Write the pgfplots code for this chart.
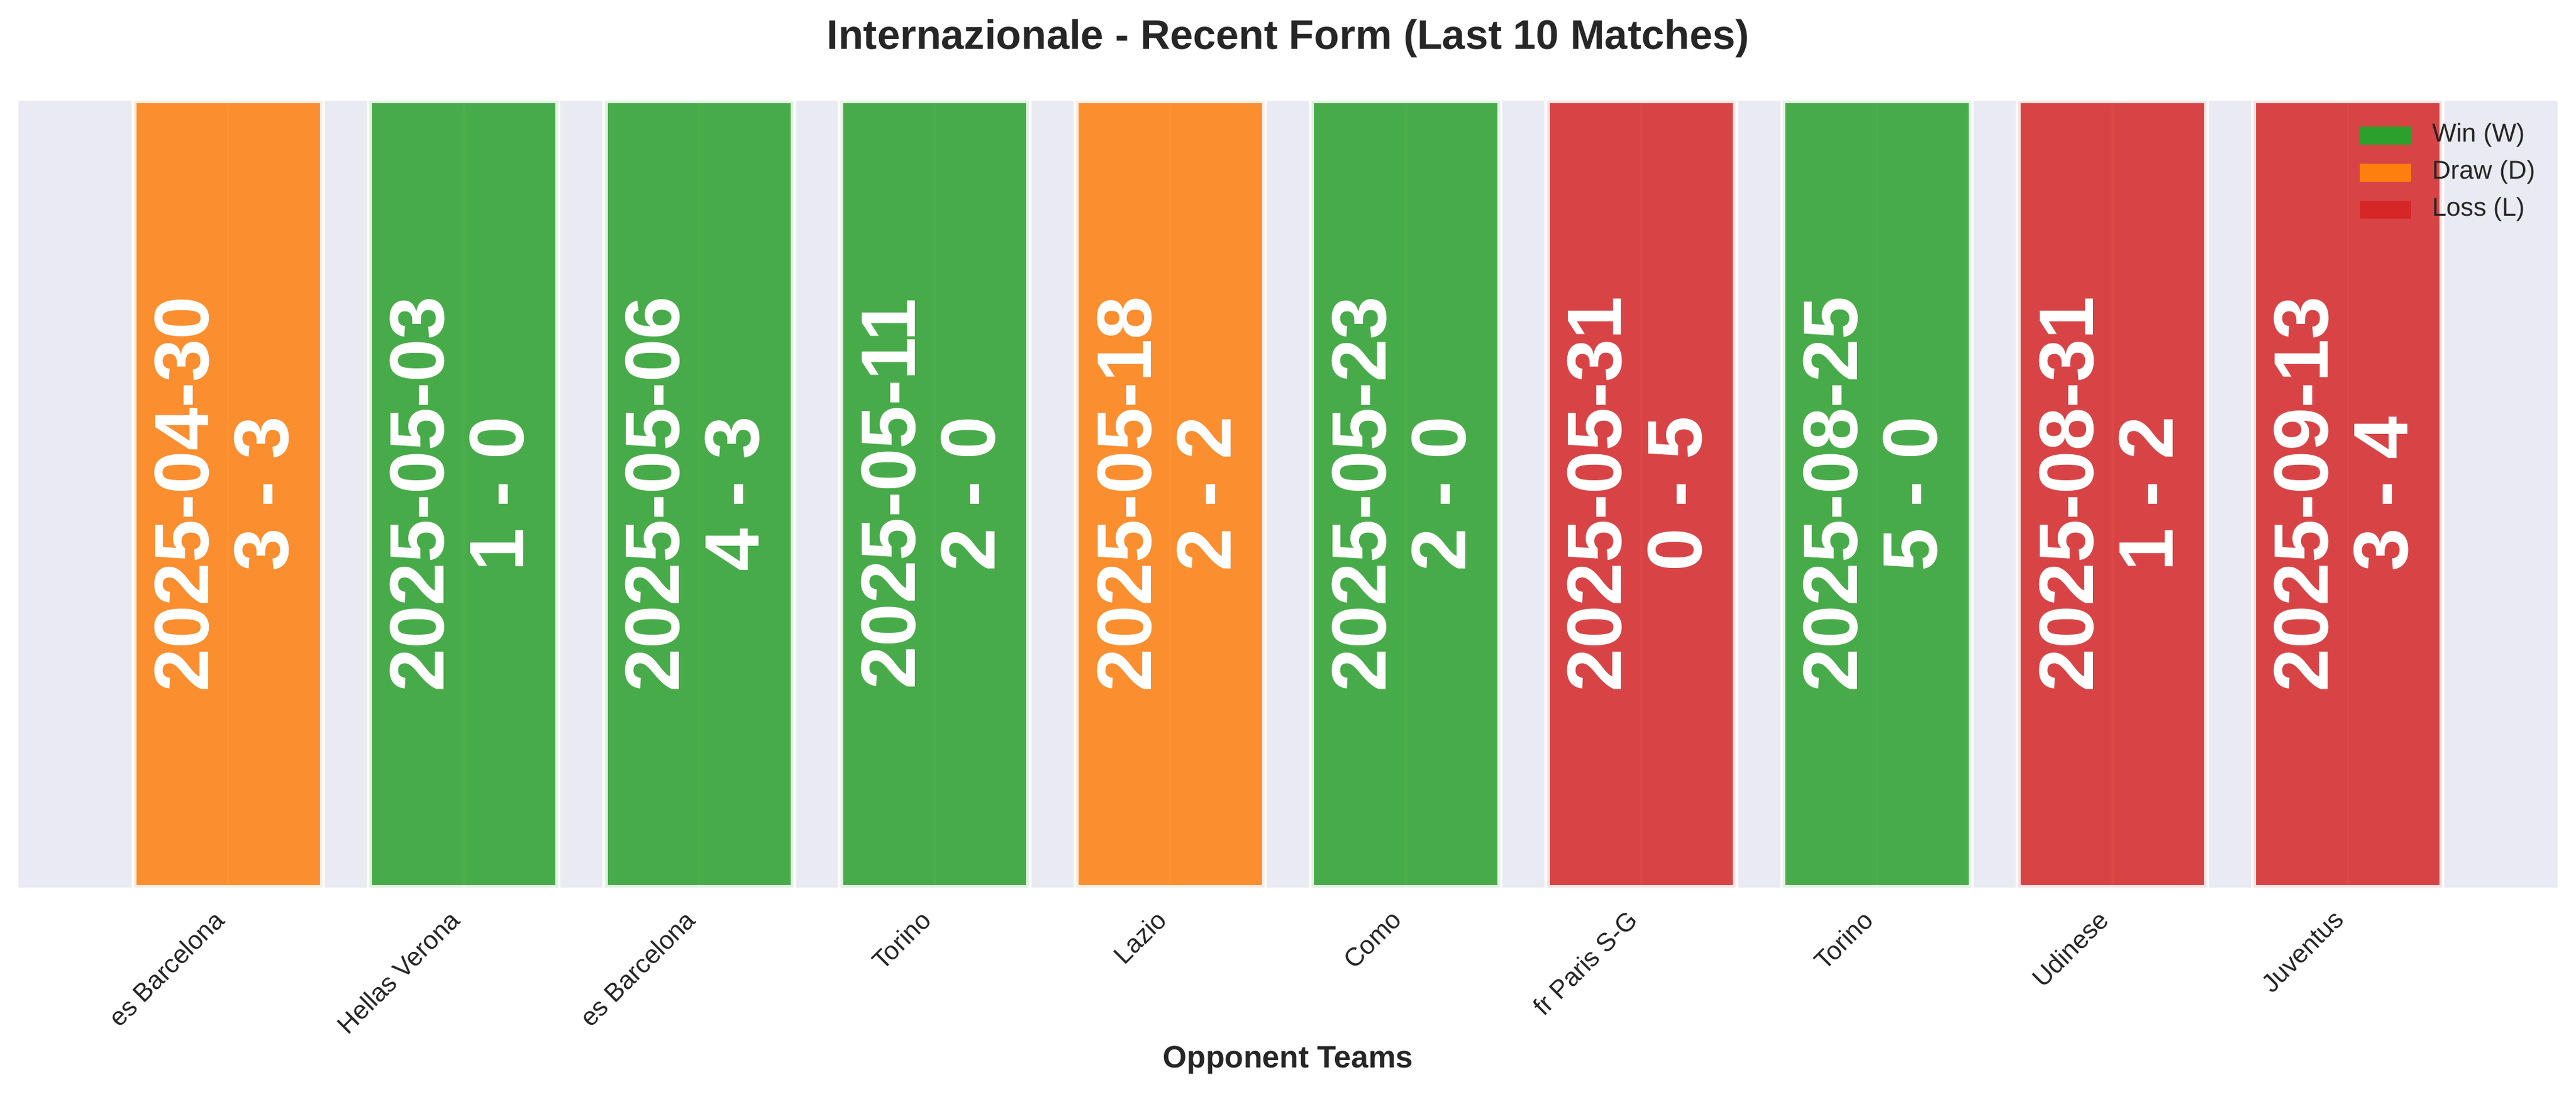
\documentclass[border=0pt]{standalone}
\usepackage{fontspec}
\setmainfont{Liberation Sans}
\usepackage{pgfplots}
\pgfplotsset{compat=1.18}

\definecolor{bgcol}{HTML}{EAEAF2}
\definecolor{winc}{HTML}{2CA02C}
\definecolor{drawc}{HTML}{FF7F0E}
\definecolor{lossc}{HTML}{D62728}
\definecolor{textc}{HTML}{262626}

% one result label inside a bar: index, date, score
\newcommand{\res}[3]{%
  \node[text=white, font=\fontsize{30}{31}\selectfont\bfseries,
        align=center, inner sep=0pt, xshift=-2.5pt, rotate=90]
    at (axis cs:#1,0.5) {#2\\#3};}

\begin{document}
\begin{tikzpicture}
  \begin{axis}[
    at={(0,0)}, anchor=south west,
    scale only axis,
    width=986.4pt, height=305.5pt,
    xmin=-0.89, xmax=9.89,
    ymin=0, ymax=1,
    axis background/.style={fill=bgcol},
    axis line style={draw=none},
    major tick length=0pt,
    ytick=\empty,
    xtick={0,...,9},
    xticklabels={es Barcelona, Hellas Verona, es Barcelona, Torino, Lazio,
                 Como, fr Paris S-G, Torino, Udinese, Juventus},
    xticklabel shift=9.5pt,
    xticklabel style={xshift=-6pt, yshift=1.5pt, rotate=45,
                      anchor=north east, inner sep=0pt,
                      font=\fontsize{10}{12}\selectfont, text=textc},
    xmajorgrids,
    grid style={white, line width=1pt},
    title={Internazionale - Recent Form (Last 10 Matches)},
    title style={at={(axis description cs:0.5,1)}, anchor=base,
                 yshift=14.1pt, font=\fontsize{16}{19}\selectfont\bfseries,
                 text=textc},
    xlabel={Opponent Teams},
    xlabel style={at={(axis description cs:0.5,0)}, anchor=base,
                  yshift=-70pt, font=\fontsize{12}{14}\selectfont\bfseries,
                  text=textc},
    legend image code/.code={\fill[#1, draw=none] (0pt,-3.5pt) rectangle (20pt,3.5pt);},
    legend cell align=left,
    legend style={draw=none, fill=none, inner sep=0pt,
                  at={(axis description cs:0.9219,0.9725)}, anchor=north west,
                  font=\fontsize{10}{12}\selectfont, text=textc,
                  nodes={inner sep=0pt, text height=7.5pt, text depth=2.5pt},
                  row sep=4.4pt,
                  /tikz/every odd column/.append style={column sep=8.2pt}},
    ]
    % wins
    \addplot[ybar, bar width=0.8, fill=winc, draw=white, line width=2pt,
             fill opacity=0.85, draw opacity=0.85, forget plot]
      coordinates {(1,1) (2,1) (3,1) (5,1) (7,1)};
    % draws
    \addplot[ybar, bar width=0.8, fill=drawc, draw=white, line width=2pt,
             fill opacity=0.85, draw opacity=0.85, forget plot]
      coordinates {(0,1) (4,1)};
    % losses
    \addplot[ybar, bar width=0.8, fill=lossc, draw=white, line width=2pt,
             fill opacity=0.85, draw opacity=0.85, forget plot]
      coordinates {(6,1) (8,1) (9,1)};

    \addlegendimage{fill=winc}
    \addlegendentry{Win (W)}
    \addlegendimage{fill=drawc}
    \addlegendentry{Draw (D)}
    \addlegendimage{fill=lossc}
    \addlegendentry{Loss (L)}

    \res{0}{2025-04-30}{3 - 3}
    \res{1}{2025-05-03}{1 - 0}
    \res{2}{2025-05-06}{4 - 3}
    \res{3}{2025-05-11}{2 - 0}
    \res{4}{2025-05-18}{2 - 2}
    \res{5}{2025-05-23}{2 - 0}
    \res{6}{2025-05-31}{0 - 5}
    \res{7}{2025-08-25}{5 - 0}
    \res{8}{2025-08-31}{1 - 2}
    \res{9}{2025-09-13}{3 - 4}
  \end{axis}
  \pgfresetboundingbox
  \path[use as bounding box] (-7.2pt,-80pt) rectangle (993.6pt,344.6pt);
\end{tikzpicture}
\end{document}
